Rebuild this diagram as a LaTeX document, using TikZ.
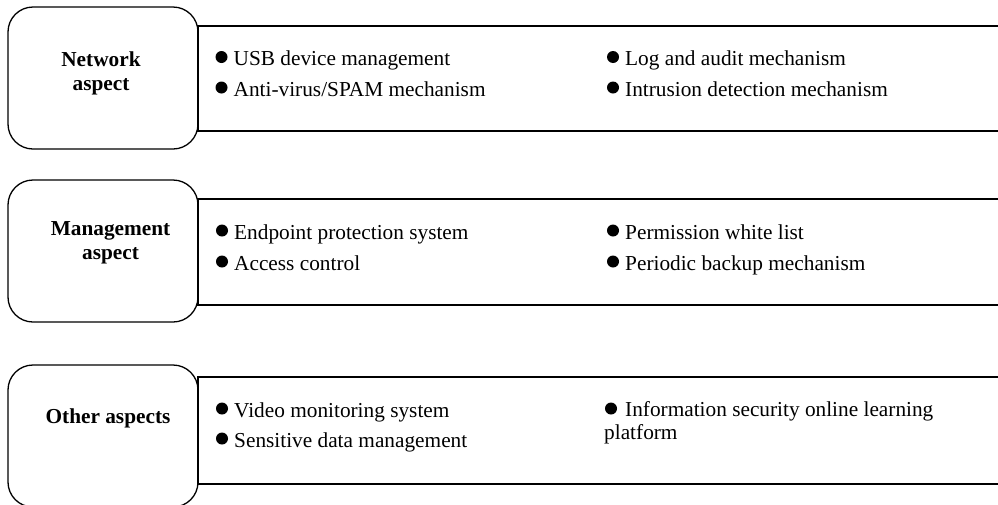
\documentclass[tikz,border=0pt]{standalone}
\usepackage{fontspec}
\setmainfont{Liberation Serif}
\begin{document}
\begin{tikzpicture}[x=1pt,y=-1pt,
  lbl/.style={draw, line width=1.3pt, rounded corners=25pt},
  band/.style={draw, line width=1.8pt},
  item/.style={anchor=base west, inner sep=0pt, font=\fontsize{21.3}{24}\selectfont},
  head/.style={inner sep=0pt, align=center, font=\bfseries\fontsize{21.3}{24}\selectfont},
  dotmark/.style={fill=black}]
\useasboundingbox (0,0) rectangle (998,504);
\clip (0,0) rectangle (998,504);

% left rounded boxes
\draw[lbl] (8,7) rectangle (198,149);
\draw[lbl] (8,180) rectangle (198,322);
\draw[lbl] (8,365) rectangle (198,507);

% right bands
\draw[band] (1010,26) -- (198,26) -- (198,131) -- (1010,131);
\draw[band] (1010,199) -- (198,199) -- (198,305) -- (1010,305);
\draw[band] (1010,377) -- (198,377) -- (198,484) -- (1010,484);

% headings
\node[head, anchor=north] (h1) at (101,51.5) {Network\\aspect};
\node[head, anchor=north] (h2) at (110.5,221.6) {Management\\aspect};
\node[head, anchor=base] (h3) at (108,423) {Other aspects};

% items row 1
\node[item] (a1) at (233.5,65.5) {USB device management};
\node[item] (a2) at (233.5,96) {Anti-virus/SPAM mechanism};
\node[item] (a3) at (625,65.5) {Log and audit mechanism};
\node[item] (a4) at (625,96) {Intrusion detection mechanism};
% items row 2
\node[item] (b1) at (234,239) {Endpoint protection system};
\node[item] (b2) at (234,270) {Access control};
\node[item] (b3) at (625,239) {Permission white list};
\node[item] (b4) at (625,270) {Periodic backup mechanism};
% items row 3
\node[item] (c1) at (234,417) {Video monitoring system};
\node[item] (c2) at (234,447) {Sensitive data management};
\node[inner sep=0pt, anchor=north west, align=left, font=\fontsize{21.3}{23}\selectfont] (c3) at (604,401.6)
  {\hspace*{21pt}Information security online learning\\platform};

% bullets
\foreach \n in {a1,a2,a3,a4,b1,b2,b3,b4,c1,c2}
  \fill[dotmark] ([shift={(-12pt,8.5pt)}]\n.base west) circle (6pt);
\fill[dotmark] (611,408.5) circle (6pt);
\end{tikzpicture}
\end{document}
